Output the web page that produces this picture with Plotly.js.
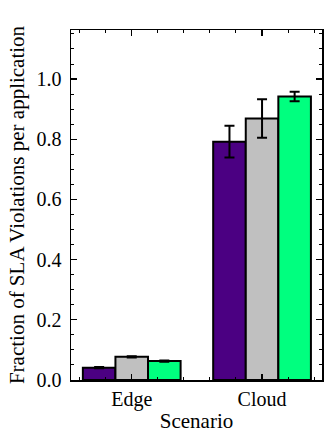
<!DOCTYPE html>
<html>
<head>
<meta charset="utf-8">
<script src="https://cdn.plot.ly/plotly-3.0.1.min.js"></script>
<style>
  html, body { margin: 0; padding: 0; background: #fff; }
  #chart { width: 332px; height: 443px; }
</style>
</head>
<body>
<div id="chart"></div>
<script>
// 시나리오 (x축 카테고리)
const scenarios = ['Edge', 'Cloud'];
const xPos = [0, 1];

// 시리즈별 값 / 오차
const series1 = [0.041, 0.792];
const series1Err = [0.002, 0.053];
const series2 = [0.077, 0.869];
const series2Err = [0.002, 0.064];
const series3 = [0.063, 0.942];
const series3Err = [0.002, 0.016];

const colors = ['#4B0082', '#C0C0C0', '#00FF7F'];

function makeBar(y, err, color) {
    return {
        x: xPos,
        y: y,
        type: 'bar',
        width: 0.25,
        marker: { color: color, line: { color: '#000', width: 2 } },
        error_y: { type: 'data', array: err, visible: true, color: '#000', thickness: 2, width: 5 },
        showlegend: false
    };
}

const data = [
    makeBar(series1, series1Err, colors[0]),
    makeBar(series2, series2Err, colors[1]),
    makeBar(series3, series3Err, colors[2])
];

const alias = {};
xPos.forEach((p, i) => { alias[p] = scenarios[i]; });

const axisCommon = {
    showline: true,
    linecolor: '#000',
    linewidth: 1.5,
    mirror: 'ticks',
    ticks: 'inside',
    ticklen: 6,
    tickwidth: 1.2,
    tickcolor: '#000',
    showgrid: false,
    zeroline: false
};

const layout = {
    width: 332,
    height: 443,
    margin: { l: 71, r: 10, t: 30, b: 63 },
    paper_bgcolor: '#fff',
    plot_bgcolor: '#fff',
    font: { family: '"Liberation Serif", "Times New Roman", serif', size: 20, color: '#000' },
    barmode: 'group',
    bargap: 0.25,
    bargroupgap: 0,
    xaxis: Object.assign({}, axisCommon, {
        range: [-0.466, 1.46],
        tickmode: 'linear',
        tick0: 0,
        dtick: 1,
        labelalias: alias,
        ticklabelstandoff: 0,
        minor: { tick0: 0, dtick: 0.2, ticks: 'inside', ticklen: 3, tickcolor: '#000', tickwidth: 1 },
        title: { text: 'Scenario', font: { size: 21 }, standoff: 4 }
    }),
    yaxis: Object.assign({}, axisCommon, {
        range: [0, 1.163],
        tickmode: 'linear',
        tick0: 0,
        dtick: 0.2,
        tickformat: '.1f',
        ticklabelstandoff: 4,
        minor: { tick0: 0, dtick: 0.05, ticks: 'inside', ticklen: 3, tickcolor: '#000', tickwidth: 1 },
        title: { text: 'Fraction of SLA Violations per application', font: { size: 21 }, standoff: 6 }
    })
};

Plotly.newPlot('chart', data, layout, { displayModeBar: false, staticPlot: true });
</script>
</body>
</html>
